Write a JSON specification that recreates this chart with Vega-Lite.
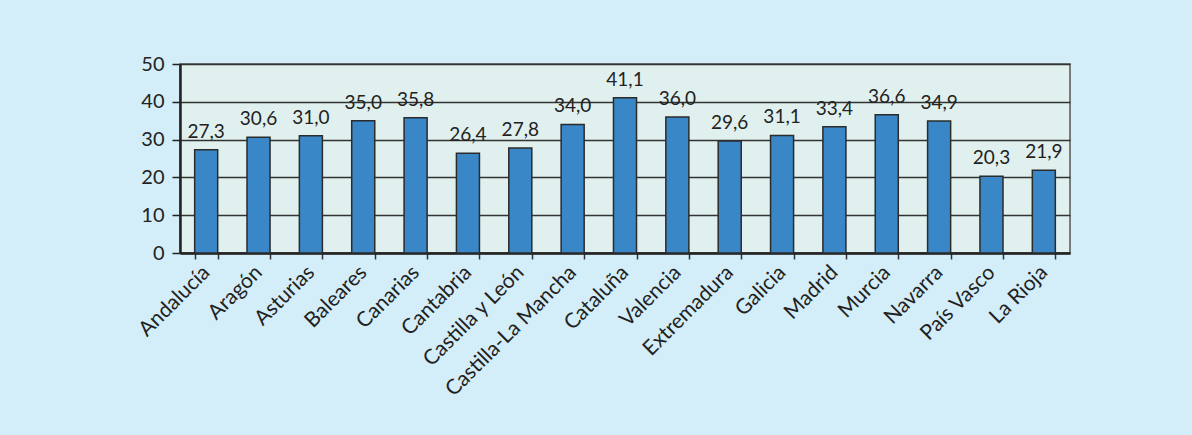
{
  "$schema": "https://vega.github.io/schema/vega-lite/v6.json",
  "autosize": {"type": "none"},
  "padding": {"left": 180, "top": 64, "right": 122, "bottom": 182},
  "width": 890,
  "height": 189,
  "background": "#d4eef9",
  "config": {
    "font": "Lato",
    "locale": {"number": {"decimal": ",", "thousands": ".", "grouping": [3], "currency": ["", " €"]}},
    "view": {"fill": "#e0f0ee", "stroke": "#555555", "strokeWidth": 1.5}
  },
  "data": {
    "values": [
      {"region": "Andalucía", "value": 27.3},
      {"region": "Aragón", "value": 30.6},
      {"region": "Asturias", "value": 31.0},
      {"region": "Baleares", "value": 35.0},
      {"region": "Canarias", "value": 35.8},
      {"region": "Cantabria", "value": 26.4},
      {"region": "Castilla y León", "value": 27.8},
      {"region": "Castilla-La Mancha", "value": 34.0},
      {"region": "Cataluña", "value": 41.1},
      {"region": "Valencia", "value": 36.0},
      {"region": "Extremadura", "value": 29.6},
      {"region": "Galicia", "value": 31.1},
      {"region": "Madrid", "value": 33.4},
      {"region": "Murcia", "value": 36.6},
      {"region": "Navarra", "value": 34.9},
      {"region": "País Vasco", "value": 20.3},
      {"region": "La Rioja", "value": 21.9}
    ]
  },
  "encoding": {
    "x": {
      "field": "region", "type": "nominal", "sort": null,
      "scale": {"paddingInner": 0.56, "paddingOuter": 0.28},
      "axis": {
        "title": null, "labelAngle": -45, "labelAlign": "right", "labelBaseline": "middle",
        "labelFontSize": 21, "labelColor": "#222222", "labelPadding": 10,
        "tickBand": "extent", "tickColor": "#333333", "tickSize": 6, "tickWidth": 1.5,
        "domainColor": "#222222", "domainWidth": 2.5, "grid": false
      }
    },
    "y": {
      "field": "value", "type": "quantitative",
      "scale": {"domain": [0, 50], "nice": false},
      "axis": {
        "title": null, "values": [0, 10, 20, 30, 40, 50],
        "labelFontSize": 20, "labelColor": "#222222", "labelPadding": 8,
        "tickColor": "#222222", "tickSize": 8, "tickWidth": 1.5,
        "domainColor": "#222222", "domainWidth": 2.5,
        "grid": true, "gridColor": "#333333", "gridWidth": 1.3
      }
    }
  },
  "layer": [
    {
      "mark": {"type": "bar", "fill": "#3a87c8", "stroke": "#2b2b2b", "strokeWidth": 1.5}
    },
    {
      "mark": {"type": "text", "baseline": "alphabetic", "dy": -12, "fontSize": 19, "color": "#222222"},
      "encoding": {"text": {"field": "value", "type": "quantitative", "format": ".1f"}}
    }
  ]
}
